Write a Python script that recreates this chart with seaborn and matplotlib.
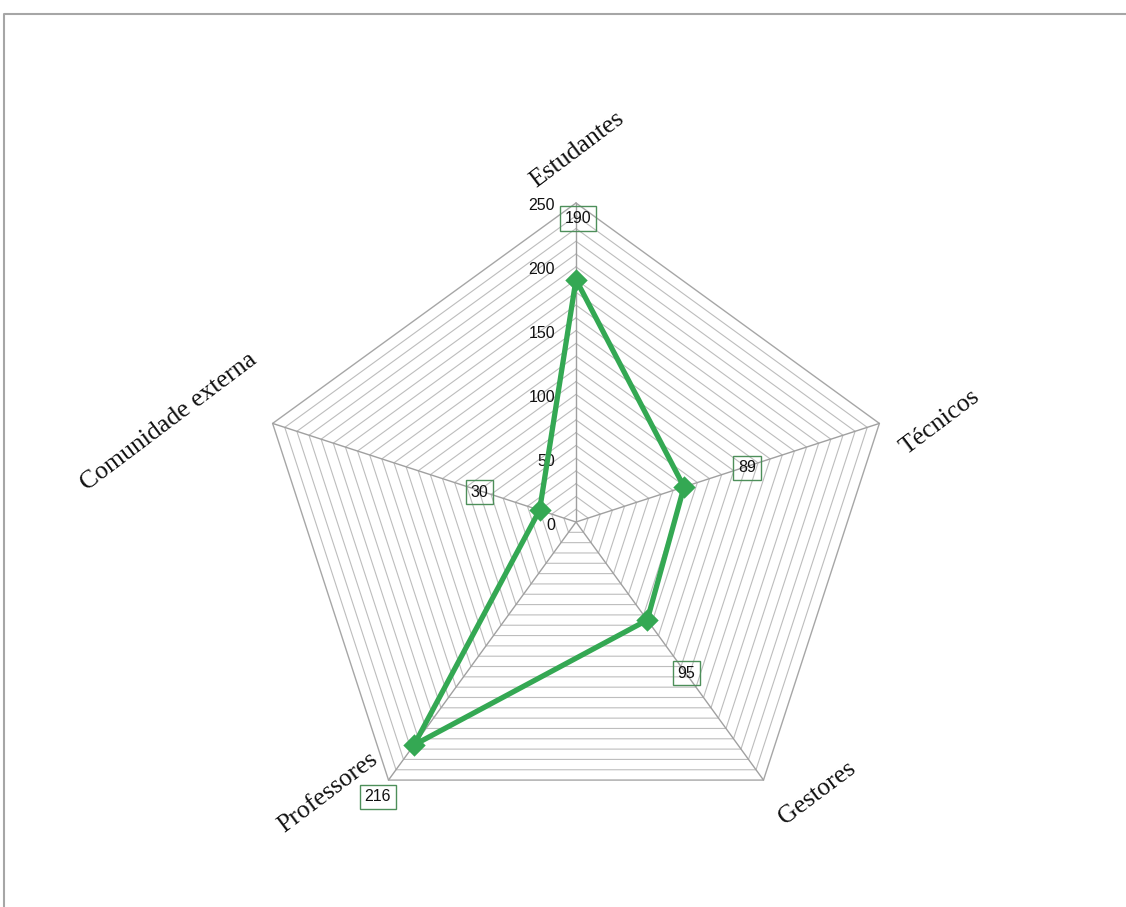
import numpy as np
import pandas as pd
import matplotlib
matplotlib.use("Agg")
import matplotlib.pyplot as plt
from matplotlib.lines import Line2D
import seaborn as sns

# Survey respondents by group
categories = ["Estudantes", "Técnicos", "Gestores", "Professores", "Comunidade externa"]
values = [190, 89, 95, 216, 30]

# Radial scale
r_max = 250
ring_step = 10
tick_values = [0, 50, 100, 150, 200, 250]

sns.set_theme(style="white")
plt.rcParams["font.family"] = ["Liberation Sans", "DejaVu Sans"]

W, H, DPI = 1126, 907, 100
fig = plt.figure(figsize=(W / DPI, H / DPI), dpi=DPI)

# axes cover the whole canvas; 1 data unit = px_per_unit pixels
cx_px, cy_px, R_px = 576, 522, 319
px_per_unit = R_px / r_max
ax = fig.add_axes([0, 0, 1, 1])
ax.set_xlim(-cx_px / px_per_unit, (W - cx_px) / px_per_unit)
ax.set_ylim(-(H - cy_px) / px_per_unit, cy_px / px_per_unit)
ax.set_aspect("equal")
ax.axis("off")

n = len(categories)
angles = np.pi / 2 - np.arange(n) * 2 * np.pi / n
ux, uy = np.cos(angles), np.sin(angles)

# concentric pentagon grid
for v in range(ring_step, r_max + 1, ring_step):
    xs = np.append(ux * v, ux[0] * v)
    ys = np.append(uy * v, uy[0] * v)
    outer = v == r_max
    ax.plot(xs, ys, color="#a6a6a6" if outer else "#bdbdbd",
            lw=1.0 if outer else 0.8, zorder=1)
# spokes
for i in range(n):
    ax.plot([0, ux[i] * r_max], [0, uy[i] * r_max], color="#a0a0a0", lw=1.0, zorder=1)

# radial tick labels along the first spoke
for t in tick_values:
    ax.annotate(str(t), (0, t), xytext=(-21, -3), textcoords="offset pixels",
                ha="right", va="center", fontsize=11.5, color="#111111")

# category labels, rotated
label_offsets = [(1, 53), (61, 1), (54, -13), (-61, -12), (-104, 2)]
for i, cat in enumerate(categories):
    ax.annotate(cat, (ux[i] * r_max, uy[i] * r_max), xytext=label_offsets[i],
                textcoords="offset pixels", ha="center", va="center",
                rotation=37, rotation_mode="anchor", fontsize=18.5,
                family=["Liberation Serif", "DejaVu Serif"], color="#111111")

# data polygon
df = pd.DataFrame({"categoria": categories, "valor": values})
df["x"] = ux * df["valor"]
df["y"] = uy * df["valor"]
closed = pd.concat([df, df.iloc[[0]]], ignore_index=True)
green = "#34a853"
sns.lineplot(data=closed, x="x", y="y", sort=False, estimator=None, ax=ax,
             color=green, lw=3.8, zorder=3)
sns.scatterplot(data=df, x="x", y="y", ax=ax, marker="D", s=130, color=green,
                edgecolor=green, linewidth=0, zorder=4)
ax.axis("off")

# value labels in boxes
value_offsets = [(2, 61), (63, 19), (39, -53), (-36, -52), (-60, 18)]
for i, row in df.iterrows():
    ax.annotate(str(row["valor"]), (row["x"], row["y"]), xytext=value_offsets[i],
                textcoords="offset pixels", ha="center", va="center",
                fontsize=11.5, color="#111111", zorder=5,
                bbox=dict(boxstyle="square,pad=0.3", facecolor="none",
                          edgecolor="#4d8f5a", linewidth=1.0))

# chart-area frame (top and left edges visible)
fx = 4 / W
fy = 1 - 14 / H
fig.add_artist(Line2D([fx, fx, 1.01], [-0.01, fy, fy], transform=fig.transFigure,
                      color="#a6a6a6", lw=1.5))

fig.savefig("out.png", dpi=DPI)
